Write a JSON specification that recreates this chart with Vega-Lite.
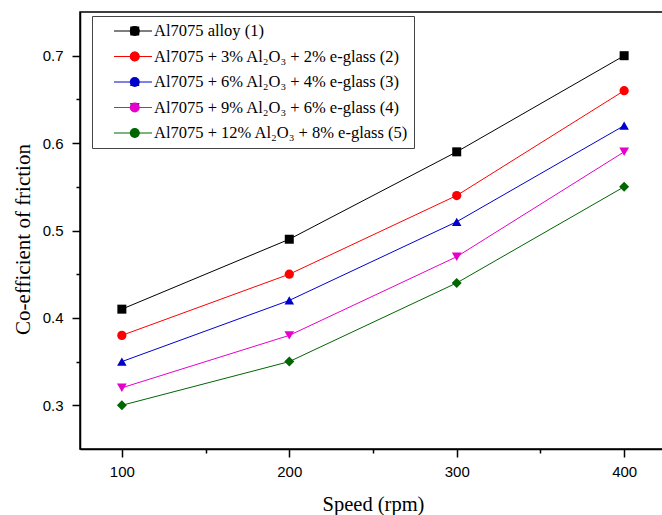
{
  "$schema": "https://vega.github.io/schema/vega-lite/v6.json",
  "width": 586,
  "height": 437,
  "autosize": {"type": "none"},
  "padding": {"left": 80, "top": 12, "right": 0, "bottom": 66},
  "background": "white",
  "config": {
    "view": {"stroke": "#000000", "strokeWidth": 1.5},
    "axis": {
      "grid": false,
      "domainColor": "#000000",
      "domainWidth": 1.5,
      "tickColor": "#000000",
      "tickWidth": 1.5,
      "labelFont": "Liberation Sans",
      "labelFontSize": 15,
      "labelColor": "#000000",
      "titleFont": "Liberation Serif",
      "titleFontWeight": "normal",
      "titleColor": "#000000"
    }
  },
  "data": {
    "values": [
      {"series": "Al7075 alloy (1)", "speed": 100, "cof": 0.41},
      {"series": "Al7075 alloy (1)", "speed": 200, "cof": 0.49},
      {"series": "Al7075 alloy (1)", "speed": 300, "cof": 0.59},
      {"series": "Al7075 alloy (1)", "speed": 400, "cof": 0.70},
      {"series": "Al7075 + 3% Al₂O₃ + 2% e-glass (2)", "speed": 100, "cof": 0.38},
      {"series": "Al7075 + 3% Al₂O₃ + 2% e-glass (2)", "speed": 200, "cof": 0.45},
      {"series": "Al7075 + 3% Al₂O₃ + 2% e-glass (2)", "speed": 300, "cof": 0.54},
      {"series": "Al7075 + 3% Al₂O₃ + 2% e-glass (2)", "speed": 400, "cof": 0.66},
      {"series": "Al7075 + 6% Al₂O₃ + 4% e-glass (3)", "speed": 100, "cof": 0.35},
      {"series": "Al7075 + 6% Al₂O₃ + 4% e-glass (3)", "speed": 200, "cof": 0.42},
      {"series": "Al7075 + 6% Al₂O₃ + 4% e-glass (3)", "speed": 300, "cof": 0.51},
      {"series": "Al7075 + 6% Al₂O₃ + 4% e-glass (3)", "speed": 400, "cof": 0.62},
      {"series": "Al7075 + 9% Al₂O₃ + 6% e-glass (4)", "speed": 100, "cof": 0.32},
      {"series": "Al7075 + 9% Al₂O₃ + 6% e-glass (4)", "speed": 200, "cof": 0.38},
      {"series": "Al7075 + 9% Al₂O₃ + 6% e-glass (4)", "speed": 300, "cof": 0.47},
      {"series": "Al7075 + 9% Al₂O₃ + 6% e-glass (4)", "speed": 400, "cof": 0.59},
      {"series": "Al7075 + 12% Al₂O₃ + 8% e-glass (5)", "speed": 100, "cof": 0.30},
      {"series": "Al7075 + 12% Al₂O₃ + 8% e-glass (5)", "speed": 200, "cof": 0.35},
      {"series": "Al7075 + 12% Al₂O₃ + 8% e-glass (5)", "speed": 300, "cof": 0.44},
      {"series": "Al7075 + 12% Al₂O₃ + 8% e-glass (5)", "speed": 400, "cof": 0.55}
    ]
  },
  "layer": [
    {
      "mark": {"type": "line", "strokeWidth": 1},
      "encoding": {
        "x": {
          "field": "speed", "type": "quantitative",
          "scale": {"domain": [75, 425], "nice": false, "zero": false},
          "axis": {"orient": "bottom", "values": [100, 200, 300, 400], "tickSize": 8, "labelPadding": 7, "title": "Speed (rpm)", "titleFontSize": 20.5, "titlePadding": 15}
        },
        "y": {
          "field": "cof", "type": "quantitative",
          "scale": {"domain": [0.25, 0.75], "nice": false, "zero": false},
          "axis": {"orient": "left", "values": [0.3, 0.4, 0.5, 0.6, 0.7], "format": ".1f", "tickSize": 8, "labelPadding": 9, "title": "Co-efficient of friction", "titleFontSize": 21, "titlePadding": 9, "titleY": 227}
        },
        "color": {
          "field": "series", "type": "nominal",
          "scale": {
            "domain": ["Al7075 alloy (1)", "Al7075 + 3% Al₂O₃ + 2% e-glass (2)", "Al7075 + 6% Al₂O₃ + 4% e-glass (3)", "Al7075 + 9% Al₂O₃ + 6% e-glass (4)", "Al7075 + 12% Al₂O₃ + 8% e-glass (5)"],
            "range": ["#000000", "#ff0000", "#0000cc", "#e600cc", "#006600"]
          },
          "legend": {
            "title": null, "orient": "none", "legendX": 12, "legendY": 4,
            "symbolType": "stroke", "symbolSize": 1444, "symbolStrokeWidth": 1,
            "symbolOffset": 16.5, "labelOffset": 1.5,
            "strokeColor": "#444444", "padding": 5,
            "clipHeight": 20, "rowPadding": 5.5,
            "labelFont": "Liberation Serif", "labelFontSize": 16.5, "labelColor": "#000000", "labelLimit": 400
          }
        }
      }
    },
    {
      "mark": {"type": "point", "filled": true, "opacity": 1},
      "encoding": {
        "x": {"field": "speed", "type": "quantitative", "scale": {"domain": [75, 425], "nice": false, "zero": false}, "axis": null},
        "y": {"field": "cof", "type": "quantitative", "scale": {"domain": [0.25, 0.75], "nice": false, "zero": false}, "axis": null},
        "color": {
          "field": "series", "type": "nominal",
          "legend": {
            "title": null, "orient": "none", "legendX": 12, "legendY": 4,
            "symbolStrokeWidth": 0, "symbolOffset": 29.5,
            "padding": 5, "clipHeight": 20, "rowPadding": 5.5,
            "labelFont": "Liberation Serif", "labelFontSize": 16.5, "labelExpr": "''", "labelLimit": 400
          }
        },
        "shape": {
          "field": "series", "type": "nominal",
          "scale": {
            "domain": ["Al7075 alloy (1)", "Al7075 + 3% Al₂O₃ + 2% e-glass (2)", "Al7075 + 6% Al₂O₃ + 4% e-glass (3)", "Al7075 + 9% Al₂O₃ + 6% e-glass (4)", "Al7075 + 12% Al₂O₃ + 8% e-glass (5)"],
            "range": ["square", "circle", "triangle-up", "triangle-down", "diamond"]
          },
          "legend": {
            "title": null, "orient": "none", "legendX": 12, "legendY": 4,
            "symbolStrokeWidth": 0, "symbolOffset": 29.5,
            "padding": 5, "clipHeight": 20, "rowPadding": 5.5,
            "labelFont": "Liberation Serif", "labelFontSize": 16.5, "labelExpr": "''", "labelLimit": 400
          }
        },
        "size": {
          "field": "series", "type": "ordinal",
          "scale": {
            "domain": ["Al7075 alloy (1)", "Al7075 + 3% Al₂O₃ + 2% e-glass (2)", "Al7075 + 6% Al₂O₃ + 4% e-glass (3)", "Al7075 + 9% Al₂O₃ + 6% e-glass (4)", "Al7075 + 12% Al₂O₃ + 8% e-glass (5)"],
            "range": [81, 100, 135, 135, 144]
          },
          "legend": {
            "title": null, "orient": "none", "legendX": 12, "legendY": 4,
            "symbolStrokeWidth": 0, "symbolOffset": 29.5,
            "padding": 5, "clipHeight": 20, "rowPadding": 5.5,
            "labelFont": "Liberation Serif", "labelFontSize": 16.5, "labelExpr": "''", "labelLimit": 400
          }
        }
      }
    },
    {
      "mark": {"type": "point", "opacity": 0},
      "encoding": {
        "x": {
          "field": "speed", "type": "quantitative",
          "scale": {"domain": [75, 425], "nice": false, "zero": false},
          "axis": {"orient": "bottom", "values": [150, 250, 350], "tickSize": 4, "labels": false, "domain": false, "title": null}
        },
        "y": {
          "field": "cof", "type": "quantitative",
          "scale": {"domain": [0.25, 0.75], "nice": false, "zero": false},
          "axis": {"orient": "left", "values": [0.35, 0.45, 0.55, 0.65], "tickSize": 4, "labels": false, "domain": false, "title": null}
        }
      }
    }
  ],
  "resolve": {"axis": {"x": "independent", "y": "independent"}, "legend": {"color": "independent"}}
}
